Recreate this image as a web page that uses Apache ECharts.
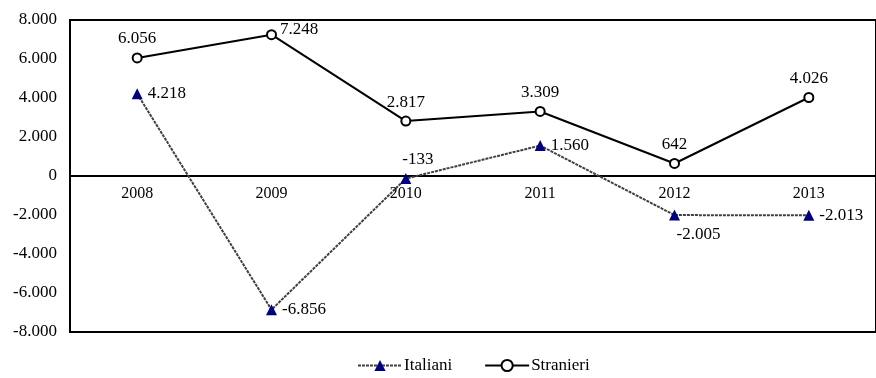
<!DOCTYPE html>
<html>
<head>
<meta charset="utf-8">
<script src="https://cdn.jsdelivr.net/npm/echarts@6/dist/echarts.min.js"></script>
<style>
html, body { margin: 0; padding: 0; background: #fff; }
#chart { width: 876px; height: 378px; }
</style>
</head>
<body>
<div id="chart"></div>
<script>
var anni = ["2008", "2009", "2010", "2011", "2012", "2013"];
var italiani = [4218, -6856, -133, 1560, -2005, -2013];
var stranieri = [6056, 7248, 2817, 3309, 642, 4026];
// posizione delle etichette di ogni punto
var posItaliani = ["right", "right", "top", "right", "bottom", "right"];
var posStranieri = ["top", "right", "top", "top", "top", "top"];

// formato italiano: punto come separatore delle migliaia
function fmt(v) {
    var s = String(Math.abs(v)).replace(/\B(?=(\d{3})+(?!\d))/g, ".");
    return (v < 0 ? "-" : "") + s;
}

var font = "Liberation Serif";
var fs = 17;

function buildData(values, pos) {
    return values.map(function (v, i) {
        var lbl = { position: pos[i] };
        if (pos[i] === "bottom") lbl.offset = [24, 0];
        if (pos[i] === "top" && v < 0) lbl.offset = [12, 0];
        if (pos[i] === "right" && v > 7000) lbl.offset = [-2, -5];
        return { value: v, label: lbl };
    });
}

var myChart = echarts.init(document.getElementById("chart"));
option = {
    animation: false,
    backgroundColor: "#fff",
    textStyle: { fontFamily: font },
    grid: {
        left: 70,
        top: 20,
        width: 816,
        height: 312,
        show: true,
        borderColor: "#000",
        borderWidth: 2,
        backgroundColor: "transparent",
    },
    legend: {
        left: 352,
        top: 352,
        itemWidth: 44,
        itemHeight: 14,
        itemGap: 32,
        textStyle: { color: "#000", fontSize: fs, fontFamily: font, padding: [0, 0, 0, -3] },
        data: ["Italiani", "Stranieri"],
    },
    xAxis: [
        {
            // asse all'altezza dello zero (metà griglia)
            type: "category",
            data: anni,
            position: "bottom",
            offset: -156,
            axisLine: { onZero: false, lineStyle: { color: "#000", width: 2 } },
            axisTick: { alignWithLabel: true, length: 5, lineStyle: { color: "#000", width: 2 } },
            axisLabel: { color: "#000", fontSize: 16, fontFamily: font, margin: 10 },
        },
        {
            // tacche verso l'alto
            type: "category",
            data: anni,
            position: "bottom",
            offset: -156,
            axisLine: { show: false, onZero: false },
            axisTick: { inside: true, alignWithLabel: true, length: 5, lineStyle: { color: "#000", width: 2 } },
            axisLabel: { show: false },
        },
    ],
    yAxis: {
        type: "value",
        min: -8000,
        max: 8000,
        interval: 2000,
        axisLine: { show: true, lineStyle: { color: "#000", width: 2 } },
        axisTick: { show: false },
        splitLine: { show: false },
        axisLabel: {
            color: "#000",
            fontSize: fs,
            fontFamily: font,
            margin: 13,
            formatter: function (v) { return fmt(v); },
        },
    },
    series: [
        {
            name: "Italiani",
            type: "line",
            data: buildData(italiani, posItaliani),
            symbol: "triangle",
            symbolSize: 11,
            itemStyle: { color: "#000080" },
            lineStyle: { color: "#404040", width: 2, type: [3, 1] },
            label: {
                show: true,
                color: "#000",
                fontSize: fs,
                fontFamily: font,
                distance: 5,
                formatter: function (p) { return fmt(p.value); },
            },
            z: 3,
        },
        {
            name: "Stranieri",
            type: "line",
            data: buildData(stranieri, posStranieri),
            symbol: "circle",
            symbolSize: 9,
            itemStyle: { color: "#fff", borderColor: "#000", borderWidth: 2 },
            lineStyle: { color: "#000", width: 2 },
            label: {
                show: true,
                color: "#000",
                fontSize: fs,
                fontFamily: font,
                distance: 5,
                formatter: function (p) { return fmt(p.value); },
            },
            z: 4,
        },
    ],
};
myChart.setOption(option);
window.addEventListener("resize", function () {
    myChart.resize();
});
</script>
</body>
</html>
